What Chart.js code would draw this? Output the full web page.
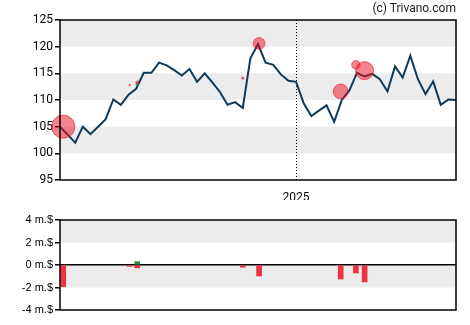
<!DOCTYPE html>
<html>
<head>
<meta charset="utf-8">
<script src="https://cdn.jsdelivr.net/npm/chart.js@4.4.1/dist/chart.umd.min.js"></script>
<style>
  html, body { margin: 0; padding: 0; background: #fff; }
  #wrap { position: relative; width: 470px; height: 325px; }
  #top { position: absolute; left: 0; top: 0; }
  #bot { position: absolute; left: 0; top: 200px; }
  #credit { position: absolute; right: 14px; top: 1px; font: 12px Roboto, sans-serif; color: #222; }
</style>
</head>
<body>
<div id="wrap">
  <canvas id="top" width="470" height="205"></canvas>
  <canvas id="bot" width="470" height="125"></canvas>
  <div id="credit">(c) Trivano.com</div>
</div>
<script>
// weekly closes
const weeks = [
  '2024-05-31','2024-06-07','2024-06-14','2024-06-21','2024-06-28','2024-07-05','2024-07-12','2024-07-19',
  '2024-07-26','2024-08-02','2024-08-09','2024-08-16','2024-08-23','2024-08-30','2024-09-06','2024-09-13',
  '2024-09-20','2024-09-27','2024-10-04','2024-10-11','2024-10-18','2024-10-25','2024-11-01','2024-11-08',
  '2024-11-15','2024-11-22','2024-11-29','2024-12-06','2024-12-13','2024-12-20','2024-12-27','2025-01-03',
  '2025-01-10','2025-01-17','2025-01-24','2025-01-31','2025-02-07','2025-02-14','2025-02-21','2025-02-28',
  '2025-03-07','2025-03-14','2025-03-21','2025-03-28','2025-04-04','2025-04-11','2025-04-18','2025-04-25',
  '2025-05-02','2025-05-09','2025-05-16','2025-05-23','2025-05-30'
];
const close = [
  105.0, 103.5, 102.0, 105.0, 103.6, 105.0, 106.4, 110.1, 109.1, 111.0, 112.1, 115.1, 115.1, 117.0,
  116.5, 115.6, 114.6, 115.8, 113.4, 115.0, 113.3, 111.5, 109.1, 109.6, 108.5, 117.8, 120.5, 117.0,
  116.6, 114.8, 113.6, 113.4, 109.4, 107.0, 108.0, 109.0, 105.9, 110.0, 111.8, 115.1, 114.4, 114.9,
  113.9, 111.6, 116.3, 114.2, 118.3, 113.9, 111.1, 113.5, 109.1, 110.1, 110.0
];

// insider trades (m.$)
const sellDates  = ['2024-06-03','2024-08-03','2024-08-10','2024-11-15','2024-11-30','2025-02-13','2025-02-27','2025-03-07'];
const sellPrices = [105.0, 112.8, 113.3, 114.1, 120.6, 111.6, 116.6, 115.5];
const sellValues = [-1.93, -0.12, -0.25, -0.2, -0.98, -1.24, -0.71, -1.51];
const buyDates  = ['2024-08-10'];
const buyPrices = [112.9];
const buyValues = [0.3];

const yearTicks  = ['2025-01-03'];
const yearLabels = ['2025'];

const DAY = 864e5;
const start = Date.parse(weeks[0]);
const pos = d => (Date.parse(d) - start) / (7 * DAY);
const lastPos = pos(weeks[weeks.length - 1]);

const bandPlugin = {
  id: 'bands',
  beforeDraw(chart, args, opts) {
    const { ctx, chartArea: a, scales: { y } } = chart;
    ctx.save();
    ctx.fillStyle = '#ececec';
    opts.ranges.forEach(([lo, hi]) => {
      const y1 = y.getPixelForValue(hi), y2 = y.getPixelForValue(lo);
      ctx.fillRect(a.left, y1, a.right - a.left, y2 - y1);
    });
    ctx.restore();
  },
  beforeDatasetsDraw(chart, args, opts) {
    if (!opts.dotted) return;
    const { ctx, chartArea: a, scales: { x } } = chart;
    ctx.save();
    ctx.strokeStyle = '#000';
    ctx.lineWidth = 1;
    ctx.setLineDash([1, 2]);
    yearTicks.forEach(d => {
      const px = Math.round(x.getPixelForValue(pos(d))) + 0.5;
      ctx.beginPath();
      ctx.moveTo(px, a.top);
      ctx.lineTo(px, a.bottom);
      ctx.stroke();
    });
    ctx.restore();
  },
  afterDraw(chart) {
    const { ctx, chartArea: a } = chart;
    ctx.save();
    ctx.strokeStyle = '#000';
    ctx.lineWidth = 1.5;
    ctx.strokeRect(a.left, a.top, a.right - a.left, a.bottom - a.top);
    ctx.restore();
  }
};

new Chart(document.getElementById('top'), {
  type: 'line',
  data: {
    datasets: [
      {
        type: 'bubble',
        data: sellDates.map((d, i) => ({ x: pos(d), y: sellPrices[i], r: Math.abs(sellValues[i]) * 6 })),
        backgroundColor: 'rgba(235,10,30,0.5)',
        borderColor: 'rgba(235,10,30,0.55)',
        borderWidth: 1,
        clip: false
      },
      {
        type: 'bubble',
        data: buyDates.map((d, i) => ({ x: pos(d), y: buyPrices[i], r: Math.abs(buyValues[i]) * 6 })),
        backgroundColor: 'rgba(30,140,70,0.6)',
        borderWidth: 0,
        clip: false
      },
      {
        data: close.map((v, i) => ({ x: pos(weeks[i]), y: v })),
        borderColor: '#0f3a5a',
        borderWidth: 2,
        pointRadius: 0,
        tension: 0,
        fill: false
      }
    ]
  },
  options: {
    responsive: false,
    animation: false,
    events: [],
    layout: { padding: { top: 20, right: 14, bottom: 5, left: 0 } },
    plugins: {
      legend: { display: false },
      tooltip: { enabled: false },
      bands: { ranges: [[120, 125], [110, 115], [100, 105]], dotted: true }
    },
    scales: {
      x: {
        type: 'linear',
        min: 0,
        max: lastPos,
        offset: false,
        grid: { display: false },
        border: { display: false },
        afterBuildTicks: s => { s.ticks = yearTicks.map(d => ({ value: pos(d) })); },
        afterFit: s => { s.height = 20; },
        ticks: {
          autoSkip: false,
          maxRotation: 0,
          padding: 3,
          color: '#000',
          font: { family: 'Roboto', size: 12 },
          callback: (v, i) => yearLabels[i]
        }
      },
      y: {
        min: 95,
        max: 125,
        afterFit: s => { s.width = 60; },
        ticks: { stepSize: 5, color: '#000', padding: 2, font: { family: 'Roboto', size: 12 } },
        grid: { drawOnChartArea: false, tickLength: 5, tickColor: '#000', lineWidth: 1.5 },
        border: { display: false }
      }
    }
  },
  plugins: [bandPlugin]
});

new Chart(document.getElementById('bot'), {
  type: 'bar',
  data: {
    datasets: [
      {
        data: sellDates.map((d, i) => ({ x: pos(d), y: sellValues[i] })),
        backgroundColor: '#f2303f',
        barThickness: 5,
        grouped: false
      },
      {
        data: buyDates.map((d, i) => ({ x: pos(d), y: buyValues[i] })),
        backgroundColor: '#2e8b4f',
        barThickness: 5,
        grouped: false
      }
    ]
  },
  options: {
    responsive: false,
    animation: false,
    events: [],
    layout: { padding: { top: 20, right: 14, bottom: 15, left: 0 } },
    plugins: {
      legend: { display: false },
      tooltip: { enabled: false },
      bands: { ranges: [[2, 4], [-2, 0]], dotted: false }
    },
    scales: {
      x: { type: 'linear', min: 0, max: lastPos, offset: false, display: false },
      y: {
        min: -4,
        max: 4,
        afterFit: s => { s.width = 60; },
        ticks: {
          stepSize: 2,
          color: '#000',
          padding: 2,
          font: { family: 'Liberation Sans', size: 11 },
          callback: v => v + ' m.$'
        },
        grid: {
          color: c => (c.tick && c.tick.value === 0 ? '#000' : 'rgba(0,0,0,0)'),
          lineWidth: 1.5,
          tickLength: 5,
          tickColor: '#000'
        },
        border: { display: false }
      }
    }
  },
  plugins: [bandPlugin]
});
</script>
</body>
</html>
